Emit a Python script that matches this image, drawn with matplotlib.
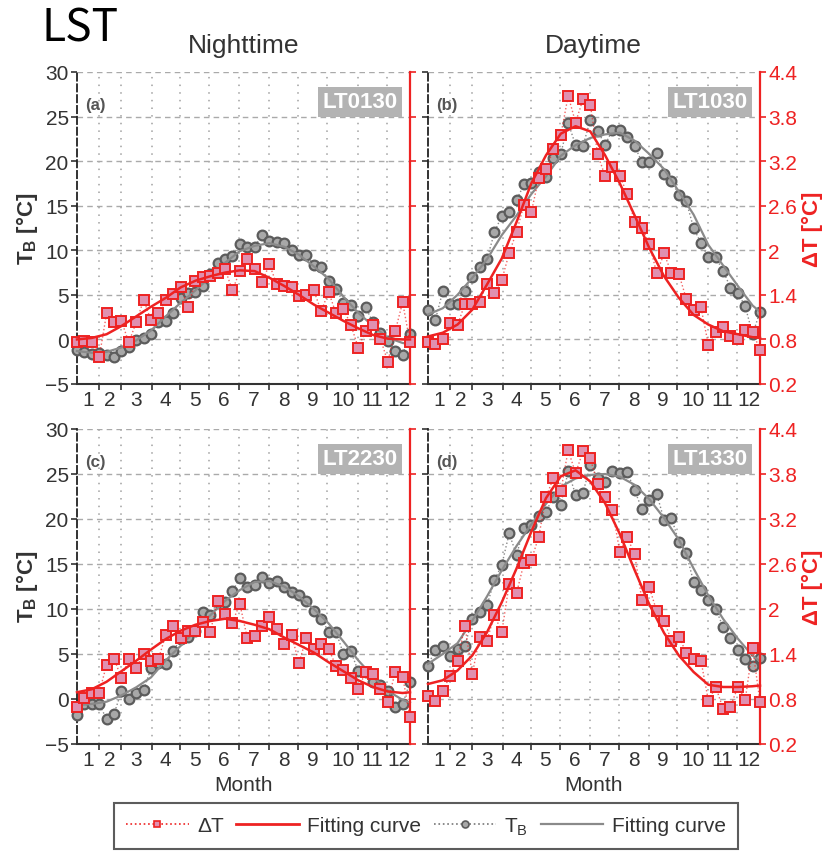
import numpy as np
import matplotlib
matplotlib.use('Agg')
import matplotlib.pyplot as plt
from matplotlib.lines import Line2D

plt.rcParams['font.family'] = ['Liberation Sans', 'DejaVu Sans']
plt.rcParams['mathtext.fontset'] = 'custom'
plt.rcParams['mathtext.rm'] = 'Liberation Sans'
plt.rcParams['mathtext.bf'] = 'Liberation Sans:bold'

# ---------------- data ----------------
x = np.arange(1, 47)                                   # 46 eight-day composites
x_fit = np.array(list(range(1, 46, 2)) + [46])         # positions where fit curves were read
month_edges = [4.0, 6.9, 11.1, 14.9, 18.9, 22.9, 26.9, 30.9, 34.8, 39.0, 42.9]
month_labels = [str(m) for m in range(1, 13)]
tb_ticks = [-5, 0, 5, 10, 15, 20, 25, 30]
dt_ticks = [0.2, 0.8, 1.4, 2, 2.6, 3.2, 3.8, 4.4]

# (a) LT0130
tb_a = [-1.2, -1.4, -1.6, -1.5, -1.8, -2.0, -1.3, -0.8, -0.1, 0.2,
        0.6, 2.0, 2.1, 3.0, 4.6, 5.2, 5.3, 6.0, 7.3, 8.6,
        9.0, 9.4, 10.7, 10.4, 10.4, 11.7, 11.0, 10.9, 10.8, 10.0,
        9.5, 9.5, 8.3, 8.1, 6.6, 5.7, 4.1, 3.9, 2.6, 3.6,
        1.9, 0.7, -0.2, -1.3, -1.7, 0.6]
dt_a = [0.77, 0.78, 0.76, 0.56, 1.15, 1.03, 1.05, 0.76, 1.03, 1.33,
        1.06, 1.15, 1.33, 1.41, 1.50, 1.24, 1.58, 1.64, 1.65, 1.69,
        1.75, 1.46, 1.72, 1.88, 1.75, 1.57, 1.81, 1.54, 1.52, 1.50,
        1.39, 1.40, 1.46, 1.18, 1.44, 1.15, 1.21, 1.00, 0.69, 0.91,
        1.00, 0.81, 0.50, 0.91, 1.30, 0.76]
tbfit_a = [-1.3, -1.5, -1.4, -0.9, -0.1, 1.0, 2.6, 4.1, 5.5, 7.0, 8.6, 9.9,
           10.5, 10.8, 10.4, 9.5, 8.2, 6.8, 4.8, 3.0, 1.5, 0.2, -0.4, -0.5]
dtfit_a = [0.80, 0.82, 0.87, 0.98, 1.11, 1.24, 1.36, 1.50, 1.59, 1.65, 1.70, 1.73,
           1.72, 1.63, 1.52, 1.40, 1.27, 1.16, 1.05, 0.95, 0.86, 0.81, 0.80, 0.80]

# (b) LT1030
tb_b = [3.35, 2.2, 5.4, 4.0, 4.0, 5.4, 7.0, 8.1, 9.0, 12.0,
        13.9, 14.3, 15.6, 17.4, 17.6, 18.8, 18.2, 20.3, 20.8, 24.3,
        21.8, 21.7, 24.6, 23.4, 21.8, 23.5, 23.5, 22.7, 21.7, 19.9,
        19.9, 20.9, 18.6, 17.8, 16.2, 15.5, 12.5, 10.8, 9.2, 9.2,
        7.7, 5.8, 5.2, 3.7, 0.6, 3.1]
dt_b = [0.76, 0.74, 0.80, 1.02, 0.99, 1.28, 1.28, 1.31, 1.55, 1.43,
        1.60, 1.96, 2.25, 2.61, 2.51, 2.97, 3.09, 3.36, 3.55, 4.08,
        3.72, 4.03, 3.96, 3.29, 3.00, 3.12, 3.00, 2.76, 2.38, 2.30,
        2.09, 1.69, 1.96, 1.69, 1.68, 1.35, 1.19, 1.23, 0.73, 0.90,
        0.97, 0.85, 0.80, 0.93, 0.90, 0.66]
tbfit_b = [2.8, 3.5, 5.0, 6.9, 9.0, 11.7, 13.9, 16.3, 18.3, 20.6, 21.8, 22.6,
           23.0, 23.2, 22.3, 20.8, 19.1, 16.6, 14.0, 10.6, 8.3, 6.0, 3.8, 3.1]
dtfit_b = [0.84, 0.89, 1.00, 1.20, 1.54, 1.89, 2.38, 2.90, 3.28, 3.57, 3.67, 3.60,
           3.28, 2.90, 2.47, 2.03, 1.65, 1.36, 1.13, 1.00, 0.91, 0.87, 0.83, 0.82]

# (c) LT2230
tb_c = [-1.8, -0.6, -0.6, -0.6, -2.2, -1.7, 0.9, 0.0, 0.7, 1.0,
        3.4, 4.0, 3.9, 5.3, 6.7, 6.9, 7.6, 9.7, 9.3, 10.8,
        10.8, 12.0, 13.4, 12.4, 12.7, 13.6, 12.9, 13.1, 12.5, 11.9,
        11.6, 10.9, 9.8, 8.9, 7.5, 7.5, 5.0, 5.3, 3.1, 3.0,
        1.9, 1.6, 0.9, -0.9, -0.6, 1.9]
dt_c = [0.69, 0.82, 0.88, 0.88, 1.26, 1.34, 1.08, 1.33, 1.22, 1.40,
        1.31, 1.33, 1.66, 1.78, 1.62, 1.71, 1.71, 1.83, 1.69, 2.11,
        1.93, 1.82, 2.07, 1.62, 1.64, 1.78, 1.89, 1.74, 1.53, 1.65,
        1.28, 1.62, 1.47, 1.53, 1.47, 1.24, 1.19, 1.08, 0.93, 1.16,
        1.14, 0.93, 0.76, 1.16, 1.10, 0.56]
tbfit_c = [-0.7, -0.55, -0.3, 0.4, 1.3, 2.4, 4.3, 5.9, 7.6, 9.3, 10.9, 12.1,
           13.0, 13.1, 12.5, 11.4, 10.0, 8.4, 6.4, 4.3, 2.5, 0.9, -0.1, -0.4]
dtfit_c = [0.89, 0.93, 1.03, 1.17, 1.31, 1.46, 1.60, 1.71, 1.79, 1.84, 1.87, 1.84,
           1.79, 1.73, 1.62, 1.52, 1.42, 1.29, 1.17, 1.05, 0.96, 0.90, 0.88, 0.89]

# (d) LT1330
tb_d = [3.7, 5.5, 5.9, 4.8, 5.6, 5.9, 8.9, 9.7, 10.4, 13.2,
        14.9, 18.4, 16.0, 19.0, 19.3, 20.3, 20.8, 22.5, 21.6, 25.3,
        22.7, 22.9, 26.0, 24.6, 24.1, 25.3, 25.1, 25.2, 23.2, 21.1,
        22.1, 22.8, 19.9, 20.1, 17.5, 16.2, 13.0, 12.1, 11.0, 10.0,
        8.0, 6.8, 5.4, 4.5, 3.7, 4.6]
dt_d = [0.84, 0.78, 0.91, 1.11, 1.31, 1.78, 1.13, 1.63, 1.58, 1.92,
        1.69, 2.33, 2.21, 2.61, 2.65, 2.96, 3.49, 3.75, 3.57, 4.12,
        3.81, 4.10, 4.01, 3.66, 3.49, 3.32, 2.76, 2.96, 2.73, 2.12,
        2.29, 1.97, 1.84, 1.58, 1.63, 1.42, 1.34, 1.31, 0.78, 0.96,
        0.67, 0.70, 0.96, 0.79, 1.48, 0.76]
tbfit_d = [3.9, 5.0, 6.2, 8.7, 11.4, 14.3, 17.0, 19.4, 21.7, 23.6, 24.5, 24.9,
           25.0, 24.7, 23.8, 22.2, 20.1, 17.7, 14.5, 11.5, 8.9, 6.7, 4.8, 4.2]
dtfit_d = [1.00, 1.05, 1.18, 1.38, 1.69, 2.09, 2.54, 3.03, 3.48, 3.77, 3.85, 3.70,
           3.41, 3.00, 2.52, 2.06, 1.68, 1.38, 1.16, 0.99, 0.96, 0.96, 0.97, 0.98]

panels = [
    ('(a)', 'LT0130', tb_a, dt_a, tbfit_a, dtfit_a),
    ('(b)', 'LT1030', tb_b, dt_b, tbfit_b, dtfit_b),
    ('(c)', 'LT2230', tb_c, dt_c, tbfit_c, dtfit_c),
    ('(d)', 'LT1330', tb_d, dt_d, tbfit_d, dtfit_d),
]

# ---------------- style ----------------
RED = '#ee2222'
PINK = '#e090b0'
GRAY_LINE = '#8a8a8a'
CIRC_EDGE = '#5c5c5c'
CIRC_FACE = '#a8a8a8'
TXT = '#333333'

W, H = 825, 854
fig = plt.figure(figsize=(W / 100, H / 100), dpi=100)


def rect(l, r, t, b):
    return [l / W, 1 - b / H, (r - l) / W, (b - t) / H]


boxes = [rect(77, 410, 73, 385), rect(428, 760, 73, 385),
         rect(77, 410, 430, 745), rect(428, 760, 430, 745)]
centers_y = [229, 229, 587, 587]

edges_all = [1] + month_edges + [46]
month_centers = [(edges_all[k] + edges_all[k + 1]) / 2 for k in range(12)]

for k, (box, (lab, lt, tb, dt, tbfit, dtfit)) in enumerate(zip(boxes, panels)):
    left_col = (k % 2 == 0)
    ax = fig.add_axes(box)
    ax2 = ax.twinx()

    ax.set_xlim(1, 46)
    ax.set_ylim(-5, 30)
    ax2.set_ylim(0.2, 4.4)

    ax.set_yticks(tb_ticks)
    ax2.set_yticks(dt_ticks)
    ax2.set_yticklabels(['%g' % v for v in dt_ticks])

    ax.set_xticks(month_edges)
    ax.set_xticklabels([])
    ax.set_xticks(month_centers, minor=True)
    ax.set_xticklabels(month_labels, minor=True)
    ax.tick_params(axis='x', which='major', direction='out', length=4, width=1.2, color=TXT)
    ax.tick_params(axis='x', which='minor', length=0, labelsize=15, labelcolor=TXT, pad=4)

    ax.tick_params(axis='y', direction='out', length=4, width=1.2, color=TXT,
                   labelsize=15, labelcolor=TXT, labelleft=left_col, pad=2)
    ax2.tick_params(axis='y', direction='out', length=4, width=1.2, color=RED,
                    labelsize=15, labelcolor=RED, labelright=not left_col, pad=2)

    # grid
    ax.grid(axis='y', which='major', linestyle=(0, (4, 3)), color='#aaaaaa', lw=1)
    ax.grid(axis='x', which='major', linestyle=(0, (1, 4)), color='#a0a0a0', lw=1.1)
    ax.set_axisbelow(True)

    # spines
    for s in ['top', 'right']:
        ax.spines[s].set_visible(False)
    ax.spines['left'].set_linestyle((0, (4, 2)))
    ax.spines['left'].set_color('#222222')
    ax.spines['left'].set_linewidth(1.3)
    ax.spines['bottom'].set_color('#333333')
    ax.spines['bottom'].set_linewidth(1.5)
    for s in ['top', 'left', 'bottom']:
        ax2.spines[s].set_visible(False)
    ax2.spines['right'].set_color(RED)
    ax2.spines['right'].set_linewidth(1.6)

    # T_B data and fit
    ax.plot(x, tb, linestyle=':', color='#888888', lw=1.0, marker='o', ms=7,
            mfc=CIRC_FACE, mec=CIRC_EDGE, mew=1.6, zorder=3, clip_on=False)
    ax.plot(x_fit, tbfit, color=GRAY_LINE, lw=1.6, zorder=4, clip_on=False)

    # dT data and fit
    ax2.plot(x, dt, linestyle=':', color=RED, lw=1.0, alpha=0.7, zorder=3, clip_on=False)
    ax2.plot(x, dt, linestyle='none', marker='s', ms=6.5, mfc=PINK, mec=RED,
             mew=1.4, zorder=4, clip_on=False)
    ax2.plot(x_fit, dtfit, color=RED, lw=1.8, zorder=5, clip_on=False)

    # annotations
    ax.text(0.024, 0.897, lab, transform=ax.transAxes, fontsize=12, fontweight='bold',
            color='#555555', ha='left', va='center', zorder=6)
    ax.text(0.85, 0.905, lt, transform=ax.transAxes, fontsize=16, fontweight='bold',
            color='white', ha='center', va='center', zorder=6,
            bbox=dict(boxstyle='square,pad=0.2', fc='#b3b3b3', ec='none'))

    if left_col:
        fig.text(27 / W, 1 - centers_y[k] / H, r'T$_\mathbf{B}$ [°C]', fontsize=16,
                 fontweight='bold', color=TXT, rotation=90, ha='center', va='center')
    else:
        fig.text(812 / W, 1 - centers_y[k] / H, 'ΔT [°C]', fontsize=16,
                 fontweight='bold', color=RED, rotation=90, ha='center', va='center')

    if k >= 2:
        ax.set_xlabel('Month', fontsize=15, color=TXT, labelpad=5)

# titles
fig.text(244 / W, 1 - 46 / H, 'Nighttime', fontsize=19, color=TXT, ha='center', va='center')
fig.text(593 / W, 1 - 46 / H, 'Daytime', fontsize=19, color=TXT, ha='center', va='center')
fig.text(42 / W, 1 - 29 / H, 'LST', fontsize=32, color='black', ha='left', va='center',
         family=['Noto Sans CJK SC', 'DejaVu Sans'])

# legend
handles = [
    Line2D([], [], linestyle=':', color=RED, lw=1.2, marker='s', ms=5, mfc=PINK, mec=RED, mew=1.2),
    Line2D([], [], color=RED, lw=2),
    Line2D([], [], linestyle=':', color='#777777', lw=1.2, marker='o', ms=5, mfc=CIRC_FACE,
           mec=CIRC_EDGE, mew=1.2),
    Line2D([], [], color=GRAY_LINE, lw=1.6),
]
labels = ['ΔT', 'Fitting curve', r'T$_\mathregular{B}$', 'Fitting curve']
leg = fig.legend(handles, labels, loc='center', bbox_to_anchor=(426 / W, 1 - 827 / H), ncol=4,
                 frameon=True, fancybox=False, edgecolor='#333333', fontsize=15,
                 handlelength=3.0, columnspacing=0.6, handletextpad=0.4, borderpad=0.6)
leg.get_frame().set_linewidth(1.5)
for t in leg.get_texts():
    t.set_color(TXT)

fig.savefig('out.png', dpi=100)
